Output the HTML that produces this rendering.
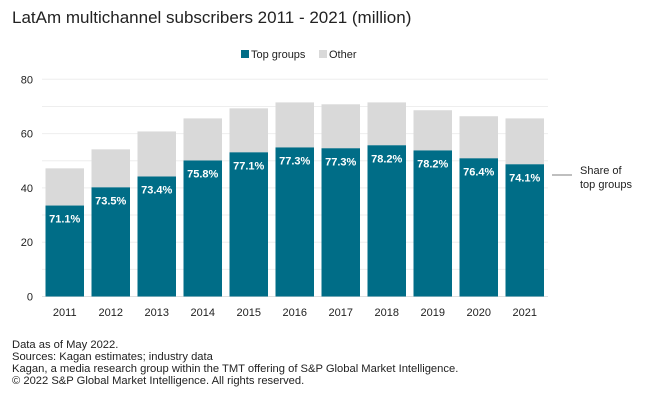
<!DOCTYPE html>
<html><head><meta charset="utf-8"><style>
body{margin:0;width:660px;height:400px;background:#fff;font-family:"Liberation Sans",sans-serif;overflow:hidden}
svg{display:block}
</style></head><body>
<svg width="660" height="400">
<text x="12" y="23" font-size="17" fill="#222">LatAm multichannel subscribers 2011 - 2021 (million)</text>
<g>
<rect x="241" y="50" width="8" height="8" fill="#006d87"/>
<text x="251" y="58" font-size="11" fill="#222">Top groups</text>
<rect x="319" y="50" width="8" height="8" fill="#d9d9d9"/>
<text x="329" y="58" font-size="11" fill="#222">Other</text>
</g>
<g id="grid"></g><g id="bars"></g><g id="labels"></g>
<line x1="552" y1="175" x2="572" y2="175" stroke="#555" stroke-width="0.8"/>
<text x="580" y="174" font-size="11" fill="#222"><tspan x="580">Share of</tspan><tspan x="580" dy="14">top groups</tspan></text>
<g font-size="11.2" fill="#222">
<text x="12" y="348">Data as of May 2022.</text>
<text x="12" y="360">Sources: Kagan estimates; industry data</text>
<text x="12" y="372">Kagan, a media research group within the TMT offering of S&amp;P Global Market Intelligence.</text>
<text x="12" y="384">© 2022 S&amp;P Global Market Intelligence. All rights reserved.</text>
</g>
</svg>
<script>
const years=["2011","2012","2013","2014","2015","2016","2017","2018","2019","2020","2021"];
const topGroups=[33.5,40.2,44.2,50.1,53.1,54.9,54.6,55.7,53.8,50.9,48.7];
const totals=[47.2,54.2,60.8,65.6,69.3,71.5,70.8,71.5,68.6,66.4,65.6];
const shares=["71.1%","73.5%","73.4%","75.8%","77.1%","77.3%","77.3%","78.2%","78.2%","76.4%","74.1%"];
const yTicks=[0,20,40,60,80];
const NS="http://www.w3.org/2000/svg";
const y=v=>296.5-v*(217.2/80);
const x=i=>45.5+i*46;
const bw=38.5;
function mk(t,a,p){const e=document.createElementNS(NS,t);for(const k in a)e.setAttribute(k,a[k]);p.appendChild(e);return e;}
const grid=document.getElementById('grid'),bars=document.getElementById('bars'),labels=document.getElementById('labels');
for(let v=10;v<=80;v+=10){const l=mk('line',{x1:42,x2:548,y1:y(v),y2:y(v),stroke:'#eeeeee','stroke-width':1},grid);

}
const base=mk('line',{x1:42,x2:548,y1:y(0),y2:y(0),stroke:'#e0e0e0','stroke-width':1},grid);


yTicks.forEach(v=>{const t=mk('text',{x:33,y:y(v)+4,'font-size':11,fill:'#222','text-anchor':'end'},labels);t.textContent=v;

});
years.forEach((yr,i)=>{
const o=mk('rect',{x:x(i),y:y(totals[i]),width:bw,height:y(topGroups[i])-y(totals[i]),fill:'#d9d9d9'},bars);


const b=mk('rect',{x:x(i),y:y(topGroups[i]),width:bw,height:y(0)-y(topGroups[i]),fill:'#006d87'},bars);


const s=mk('text',{x:x(i)+bw/2,y:y(topGroups[i])+17,'font-size':11,'font-weight':'bold',fill:'#fff','text-anchor':'middle'},labels);s.textContent=shares[i];


const t=mk('text',{x:x(i)+bw/2,y:316,'font-size':11,fill:'#222','text-anchor':'middle'},labels);t.textContent=yr;


});
</script>
</body></html>
